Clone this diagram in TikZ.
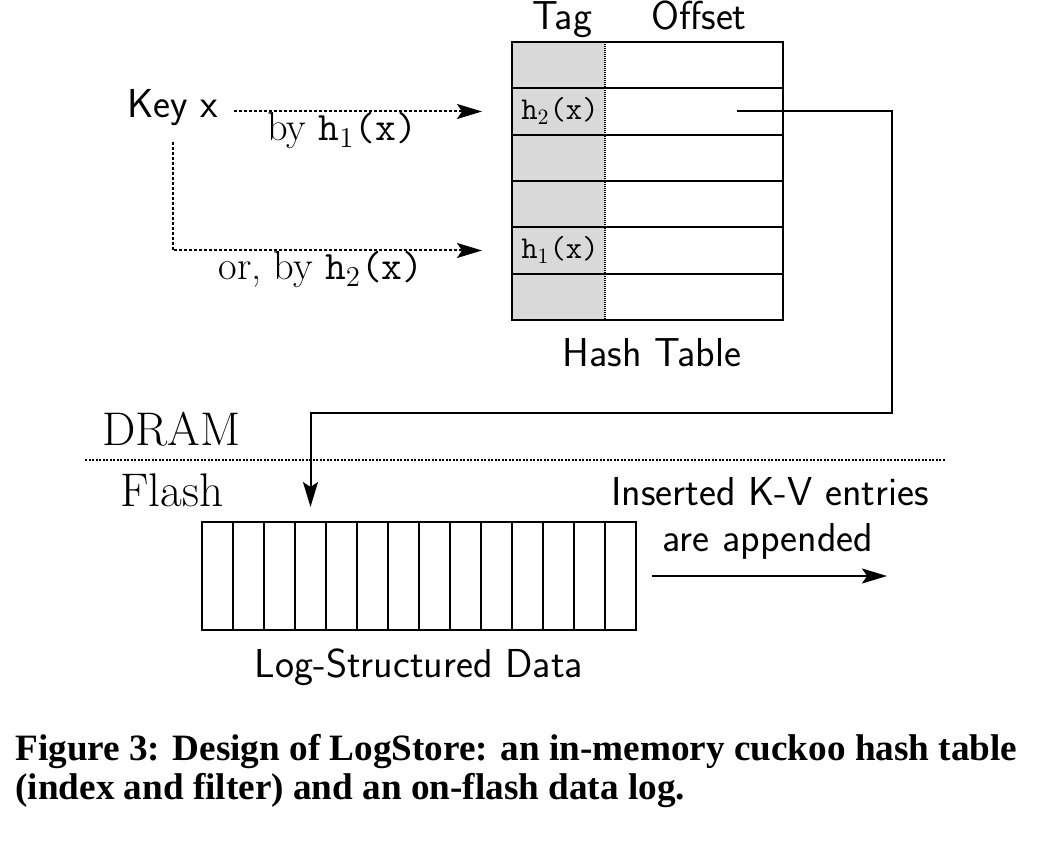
\documentclass[tikz,border=0pt]{standalone}
\usepackage{fontspec}
\usetikzlibrary{arrows.meta}
\newfontfamily\capfont{Liberation Serif}
\begin{document}
\begin{tikzpicture}[x=0.5pt,y=-0.5pt,
  lbl/.style={inner sep=0pt, anchor=base},
  sanslbl/.style={lbl, font=\fontsize{20.2}{24}\selectfont\sffamily},
  serlbl/.style={lbl, font=\fontsize{20.2}{24}\selectfont},
  biglbl/.style={inner sep=0pt, anchor=base west, font=\fontsize{23.6}{28}\selectfont},
  ttlbl/.style={inner sep=0pt, font=\fontsize{15.9}{19}\selectfont},
  caplbl/.style={inner sep=0pt, anchor=base west, font=\fontsize{18.6}{20}\selectfont\capfont\bfseries},
  tagcell/.style={rectangle, inner sep=0pt, fill=black!15, draw=none, minimum width=46.5pt, minimum height=23.17pt},
  rowcell/.style={rectangle, inner sep=0pt, draw, line width=1pt, minimum width=135.5pt, minimum height=23.17pt},
  logcell/.style={rectangle, inner sep=0pt, draw, line width=1pt, minimum width=15.5pt, minimum height=54pt},
  tip/.style={-{Stealth[length=12.5pt,width=7.5pt,inset=2.5pt]}},
  dotarrow/.style={tip, line width=1pt, dash pattern=on 1.5pt off 1pt},
  solidarrow/.style={tip, line width=1pt},
  sepline/.style={line width=0.7pt, dash pattern=on 1pt off 0.75pt},
  divline/.style={line width=0.7pt, dash pattern=on 0.5pt off 0.5pt}
]
\useasboundingbox (0,0) rectangle (1056,850);
\fill[white] (0,0) rectangle (1056,850);

% hash table
\foreach \i in {1,...,6}{
  \node[tagcell] (t\i) at (558.5, {42+46.33*(\i-0.5)}) {};
}
\foreach \i in {1,...,6}{
  \node[rowcell] (row\i) at (647.5, {42+46.33*(\i-0.5)}) {};
}
\coordinate (divtop) at (605,42);
\coordinate (divbot) at (605,320);
\draw[divline] (divtop) -- (divbot);
\node[ttlbl] (h2) at (560,111) {\texttt{h}$_2$\texttt{(x)}};
\node[ttlbl] (h1) at (560,250) {\texttt{h}$_1$\texttt{(x)}};
\node[sanslbl] (tag) at (562,30) {Tag};
\node[sanslbl] (offset) at (699,30) {Offset};
\node[sanslbl] (ht) at (652,367) {Hash Table};

% key and arrows
\node[sanslbl, anchor=base west] (key) at (127,118) {Key x};
\draw[dotarrow, shorten <=7.5pt, shorten >=14.5pt] (key.east |- row2.west) -- (row2.west);
\draw[dotarrow, shorten <=7.5pt, shorten >=14.5pt] (key.south) |- (row5.west);
\node[serlbl] (by1) at (342,141) {by \texttt{h}$_1$\texttt{(x)}};
\node[serlbl] (by2) at (321,280) {or, by \texttt{h}$_2$\texttt{(x)}};

% DRAM / Flash
\node[biglbl] (dram) at (102,445) {DRAM};
\coordinate (sepL) at (85,460);
\coordinate (sepR) at (945,460);
\draw[sepline] (sepL) -- (sepR);
\node[biglbl] (flash) at (120,507) {Flash};

% log
\foreach \i in {1,...,14}{
  \node[logcell] (cell\i) at ({202+31*(\i-0.5)}, 576) {};
}
\node[sanslbl] (lsd) at (419,677) {Log-Structured Data};

% pointer
\coordinate (ptr) at (737,111);
\draw[solidarrow, shorten >=7pt] (ptr) -| (892,413) -| (cell4.north);

% append
\node[sanslbl] (ins) at (770,505) {Inserted K-V entries};
\node[sanslbl] (app) at (768,552) {are appended};
\coordinate (aps) at (652,576);
\coordinate (ape) at (887,576);
\draw[solidarrow] (aps) -- (ape);

% caption
\node[caplbl] (cap1) at (15,760) {Figure 3: Design of LogStore: an in-memory cuckoo hash table};
\node[caplbl] (cap2) at (15,799) {(index and filter) and an on-flash data log.};
\end{tikzpicture}
\end{document}
